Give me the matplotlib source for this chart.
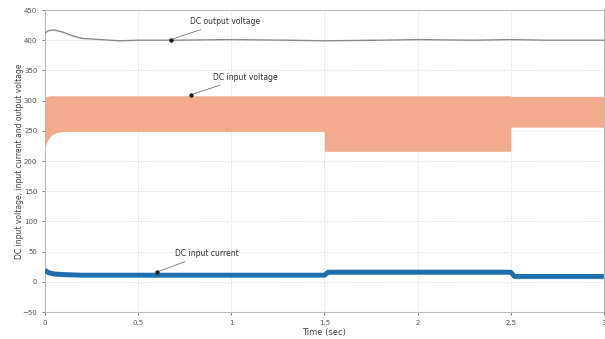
import numpy as np
import matplotlib
matplotlib.use("Agg")
from matplotlib import pyplot as plt

# DC output voltage (V)
vout_t = [0.0, 0.02, 0.05, 0.1, 0.15, 0.2, 0.3, 0.4, 0.5, 0.7, 1.0, 1.3, 1.5, 1.8, 2.0, 2.3, 2.5, 2.7, 3.0]
vout_v = [412, 416, 417, 413, 407, 403, 401, 399, 400, 400, 401, 400, 399, 400, 401, 400, 401, 400, 400]

# DC input voltage ripple envelope (V)
vin_t = [0.0, 0.01, 0.03, 0.06, 0.1, 1.5, 1.5, 2.5, 2.5, 3.0]
vin_low = [222, 232, 242, 247, 249, 249, 216, 216, 256, 256]
vin_high = [306, 307, 308, 308, 308, 308, 308, 308, 307, 307]

# DC input current (A): mean and ripple envelope
iin_t = [0.0, 0.02, 0.05, 0.1, 0.2, 1.5, 1.52, 2.5, 2.52, 3.0]
iin_mid = [19, 15, 13, 12, 11, 11, 16, 16, 9, 9]
iin_low = [14, 11, 9, 8, 8, 8, 12, 12, 5, 5]
iin_high = [24, 20, 17, 16, 15, 15, 20, 20, 13, 13]

x_ticks = [0, 0.5, 1, 1.5, 2, 2.5, 3]
x_tick_labels = ["0", "0.5", "1", "1.5", "2", "2.5", "3"]
y_ticks = [-50, 0, 50, 100, 150, 200, 250, 300, 350, 400, 450]

fig = plt.figure(figsize=(6.05, 3.39), dpi=100)
ax = fig.add_axes([0.0744, 0.0796, 0.9236, 0.8909])

ax.fill_between(vin_t, vin_low, vin_high, color="#f2ab8c", lw=0, zorder=2)
ax.fill_between(iin_t, iin_low, iin_high, color="#a9d4f2", lw=0, zorder=2)
ax.plot(iin_t, iin_mid, color="#1f6eae", lw=3.5, solid_capstyle="butt", zorder=3)
ax.plot(vout_t, vout_v, color="#8a8a8a", lw=1.0, zorder=3)

ax.set_xlim(0, 3)
ax.set_ylim(-50, 450)
ax.set_xticks(x_ticks)
ax.set_xticklabels(x_tick_labels)
ax.set_yticks(y_ticks)
ax.tick_params(labelsize=5, colors="#555555", length=2, width=0.5)
ax.grid(True, color="#d8d8d8", linestyle=":", linewidth=0.7)
for s in ax.spines.values():
    s.set_color("#bbbbbb")
    s.set_linewidth(0.8)

ax.set_xlabel("Time (sec)", fontsize=6, color="#444444", labelpad=2)
ax.set_ylabel("DC input voltage, input current and output voltage", fontsize=5.5,
              color="#444444", labelpad=-1)

arrow = dict(arrowstyle="-", color="#777777", lw=0.6)
notes = [
    ("DC output voltage", (0.675, 401), (0.78, 431)),
    ("DC input voltage", (0.785, 310), (0.90, 339)),
    ("DC input current", (0.60, 16), (0.70, 47)),
]
for label, xy, xytext in notes:
    ax.annotate(label, xy=xy, xytext=xytext, fontsize=5.5, color="#333333",
                va="center", ha="left", arrowprops=arrow, zorder=5)
    ax.plot(*xy, "o", color="#222222", ms=2.2, zorder=6)

fig.savefig("out.png", dpi=100)
